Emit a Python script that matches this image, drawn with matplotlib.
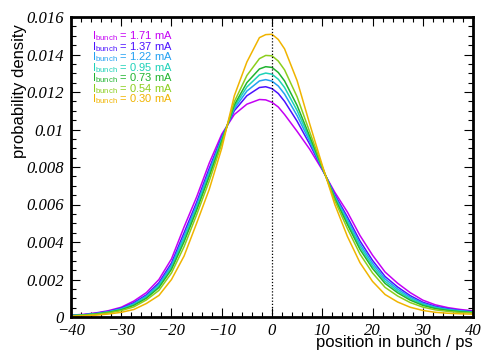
import matplotlib
matplotlib.use("Agg")
import matplotlib.pyplot as plt
from matplotlib.ticker import MultipleLocator
import numpy as np

# position in bunch / ps
position = [-40, -37.5, -35, -32.5, -30, -27.5, -25, -22.5, -20, -17.5, -15, -12.5, -10, -7.5, -5, -2.5,
            -1.25, 0, 1.25, 2.5, 5, 7.5, 10, 12.5, 15, 17.5, 20, 22.5, 25, 27.5, 30, 32.5, 35, 37.5, 40]

# probability density, in units of 1e-5
dens_171 = [10, 14, 22, 34, 52, 85, 130, 200, 310, 480, 640, 820, 975, 1080, 1135, 1160,
            1158, 1145, 1120, 1080, 990, 895, 785, 665, 560, 435, 330, 240, 180, 130, 90, 65, 50, 40, 33]
dens_137 = [9, 12, 20, 30, 47, 76, 118, 183, 288, 449, 612, 792, 960, 1100, 1180, 1224,
            1228, 1218, 1192, 1150, 1044, 922, 790, 652, 534, 406, 302, 216, 160, 114, 79, 57, 44, 35, 29]
dens_122 = [8, 12, 18, 28, 44, 71, 112, 174, 276, 432, 597, 777, 952, 1111, 1205, 1259,
            1266, 1258, 1232, 1189, 1074, 937, 793, 645, 520, 390, 287, 203, 149, 106, 73, 53, 41, 33, 27]
dens_095 = [8, 11, 17, 27, 41, 67, 106, 165, 265, 417, 583, 763, 944, 1121, 1227, 1291,
            1301, 1295, 1268, 1224, 1101, 950, 795, 638, 507, 376, 273, 191, 139, 98, 68, 49, 38, 31, 26]
dens_073 = [7, 10, 16, 25, 38, 62, 100, 157, 254, 401, 569, 749, 937, 1131, 1250, 1323,
            1335, 1331, 1304, 1259, 1128, 964, 798, 632, 494, 361, 259, 179, 129, 90, 62, 45, 35, 28, 24]
dens_054 = [6, 9, 14, 22, 34, 54, 91, 142, 235, 375, 545, 725, 924, 1148, 1288, 1378,
            1395, 1393, 1365, 1318, 1174, 987, 802, 621, 472, 336, 235, 158, 112, 77, 53, 38, 30, 24, 21]
dens_030 = [4, 6, 10, 16, 25, 40, 72, 115, 200, 325, 500, 680, 900, 1180, 1360, 1490,
            1506, 1508, 1480, 1430, 1260, 1030, 810, 600, 430, 290, 190, 120, 80, 52, 35, 25, 20, 17, 15]

labels = ["1.71", "1.37", "1.22", "0.95", "0.73", "0.54", "0.30"]
colors = ["#c400f4", "#4a10ff", "#22a0f2", "#1ed2b8", "#20b430", "#8cce1c", "#f0b400"]

plt.rcParams['font.family'] = ['Liberation Sans', 'DejaVu Sans']

fig = plt.figure(figsize=(4.82, 3.51), dpi=100)
ax = fig.add_axes([71 / 482, 34 / 351, 402 / 482, 300 / 351])

all_dens = [dens_171, dens_137, dens_122, dens_095, dens_073, dens_054, dens_030]
for dens, col in zip(all_dens, colors):
    ax.plot(position, np.array(dens) * 1e-5, color=col, lw=1.1)

ax.axvline(0, color="black", ls=(0, (1, 1.5)), lw=0.9)

ax.set_xlim(-40, 40)
ax.set_ylim(0, 0.016)
ax.xaxis.set_major_locator(MultipleLocator(10))
ax.xaxis.set_minor_locator(MultipleLocator(2))
ax.yaxis.set_minor_locator(MultipleLocator(0.0005))
ax.set_yticks(np.arange(0, 0.0161, 0.002))
ax.set_yticklabels(["0", "0.002", "0.004", "0.006", "0.008", "0.01", "0.012", "0.014", "0.016"])

ax.tick_params(which="both", direction="in", top=True, right=True, width=0.8)
ax.tick_params(which="major", length=6.5)
ax.tick_params(which="minor", length=3.5)
ax.tick_params(axis="x", pad=4)
ax.tick_params(axis="y", pad=5)
for lab in ax.get_xticklabels() + ax.get_yticklabels():
    lab.set_family("Liberation Serif")
    lab.set_style("italic")
    lab.set_fontsize(12)
for sp in ax.spines.values():
    sp.set_linewidth(2)

ax.set_xlabel("position in bunch / ps", fontsize=12, loc="right")
ax.xaxis.set_label_coords(1.0, -0.06)
ax.set_ylabel("probability density", fontsize=12, loc="top")
ax.yaxis.set_label_coords(-0.11, 0.975)

for i, (lab, col) in enumerate(zip(labels, colors)):
    ax.text(0.052, 0.935 - i * 0.035, r"$\mathregular{I_{bunch}}$ = " + lab + " mA",
            transform=ax.transAxes, color=col, fontsize=8, va="center", ha="left")

fig.savefig("out.png", dpi=100)
